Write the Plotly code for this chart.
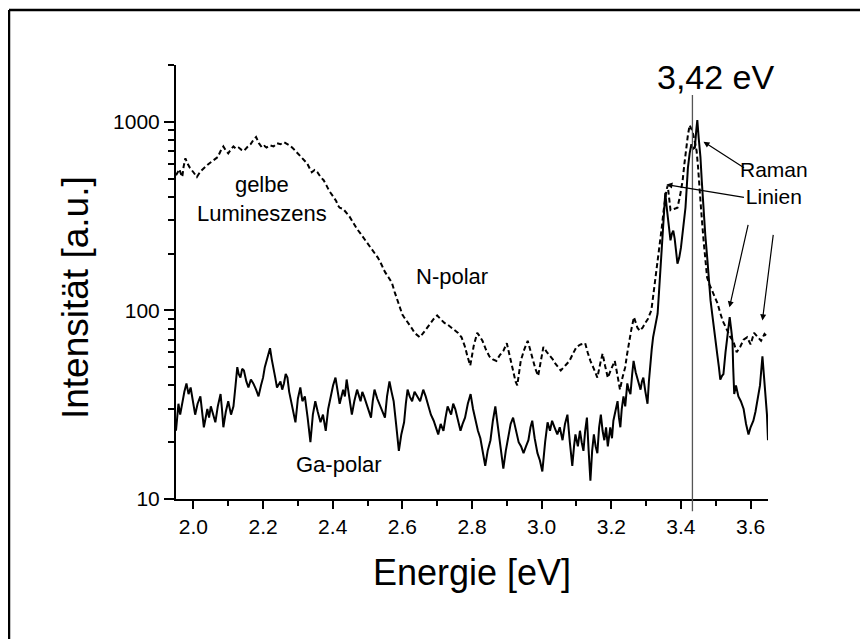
import plotly.graph_objects as go

# ---- data ----
ga_x = [1.950, 1.954, 1.957, 1.962, 1.968, 1.974, 1.980, 1.986, 1.992, 1.998,
        2.005, 2.012, 2.020, 2.025, 2.030, 2.040, 2.045, 2.050, 2.056, 2.063,
        2.070, 2.078, 2.082, 2.086, 2.093, 2.100, 2.108, 2.115, 2.121, 2.126,
        2.130, 2.135, 2.140, 2.145, 2.152, 2.158, 2.165, 2.172, 2.180, 2.187,
        2.194, 2.200, 2.205, 2.210, 2.215, 2.220, 2.225, 2.230, 2.235, 2.240,
        2.250, 2.255, 2.260, 2.265, 2.270, 2.275, 2.280, 2.287, 2.293, 2.300,
        2.307, 2.313, 2.320, 2.328, 2.336, 2.343, 2.350, 2.357, 2.365, 2.372,
        2.380, 2.387, 2.394, 2.401, 2.408, 2.414, 2.420, 2.430, 2.435, 2.440,
        2.447, 2.455, 2.462, 2.470, 2.480, 2.485, 2.490, 2.500, 2.510, 2.515,
        2.520, 2.528, 2.537, 2.543, 2.550, 2.556, 2.563, 2.569, 2.575, 2.582,
        2.590, 2.597, 2.605, 2.610, 2.615, 2.621, 2.628, 2.635, 2.643, 2.651,
        2.660, 2.667, 2.675, 2.682, 2.690, 2.696, 2.703, 2.710, 2.718, 2.724,
        2.730, 2.740, 2.746, 2.752, 2.760, 2.767, 2.773, 2.780, 2.788, 2.796,
        2.803, 2.810, 2.817, 2.824, 2.831, 2.838, 2.845, 2.853, 2.860, 2.867,
        2.871, 2.876, 2.883, 2.890, 2.897, 2.905, 2.911, 2.918, 2.926, 2.934,
        2.941, 2.948, 2.955, 2.962, 2.968, 2.973, 2.980, 2.988, 2.995, 3.002,
        3.010, 3.017, 3.024, 3.030, 3.037, 3.045, 3.052, 3.060, 3.067, 3.074,
        3.081, 3.088, 3.093, 3.097, 3.104, 3.110, 3.115, 3.120, 3.125, 3.130,
        3.135, 3.140, 3.145, 3.150, 3.155, 3.160, 3.165, 3.170, 3.175, 3.180,
        3.185, 3.190, 3.197, 3.202, 3.206, 3.212, 3.218, 3.222, 3.226, 3.230,
        3.235, 3.240, 3.246, 3.250, 3.255, 3.260, 3.264, 3.270, 3.275, 3.280,
        3.284, 3.288, 3.292, 3.298, 3.304, 3.308, 3.312, 3.316, 3.320, 3.327,
        3.333, 3.337, 3.340, 3.344, 3.347, 3.351, 3.355, 3.360, 3.365, 3.370,
        3.374, 3.378, 3.382, 3.385, 3.390, 3.395, 3.400, 3.407, 3.413, 3.417,
        3.420, 3.425, 3.430, 3.435, 3.440, 3.444, 3.447, 3.451, 3.456, 3.460,
        3.465, 3.470, 3.476, 3.480, 3.485, 3.490, 3.494, 3.500, 3.505, 3.509,
        3.513, 3.518, 3.522, 3.528, 3.534, 3.537, 3.540, 3.544, 3.548, 3.550,
        3.553, 3.558, 3.565, 3.572, 3.580, 3.587, 3.594, 3.600, 3.608, 3.614,
        3.620, 3.627, 3.634, 3.638, 3.643, 3.647, 3.650]
ga_y = [23, 30, 32, 28, 33, 37, 41, 36, 39, 33,
        28, 32, 35, 29, 24, 30, 27, 31, 28, 25.5,
        31, 36, 30, 24, 29, 33, 28, 31, 40, 50,
        46, 44, 49, 48, 42, 39, 43, 41, 38, 35,
        40, 44, 50, 54, 57, 63, 55, 50, 44, 39,
        42, 38, 41, 46, 44, 37, 33, 29, 25.5, 34,
        39, 33, 35, 27, 20, 28, 33, 29, 25.5, 28,
        23, 30, 35, 40, 44, 37, 32, 38, 35, 43,
        36, 28, 33, 38, 33, 37, 35, 31, 27, 33,
        38, 34, 31, 29, 27, 35, 42, 37, 33, 25,
        18, 22, 25.5, 32, 38, 35, 33, 37, 35, 33,
        38, 35, 31, 28, 26, 24, 22, 25, 23, 27,
        31, 28, 32, 30, 26, 23, 25, 27, 32, 36,
        30, 26, 23, 21, 18, 15, 18, 20.5, 26, 31,
        27, 23, 18, 14.5, 18, 22, 25, 27, 23, 20,
        19, 17.5, 19, 20.5, 24, 26, 21, 17.5, 16, 14,
        20, 25.5, 23, 26, 24, 22, 24, 20.5, 25, 28,
        20, 15, 19, 22, 19, 23, 20, 18, 23, 27,
        18, 12.5, 18, 22, 19, 17.5, 24, 28, 23, 20.5,
        24, 19, 24, 21, 26, 29, 33, 27, 24, 30,
        35, 31, 41, 38, 36, 46, 54, 47, 43, 40,
        38, 42, 44, 37, 32, 42, 54, 62, 72, 84,
        96, 125, 150, 195, 240, 330, 420, 340, 280, 235,
        255, 265, 240, 215, 177, 190, 215, 280, 350, 460,
        570, 680, 760, 720, 730, 900, 1020, 820, 650, 480,
        340, 250, 185, 145, 113, 95, 81, 68, 57, 50,
        43, 45, 46, 60, 76, 84, 92, 80, 69, 50,
        36, 40, 35, 33, 30, 25, 22, 24, 26, 29,
        33, 40, 57, 46, 35, 28, 20.5]

n_x = [1.950, 1.955, 1.960, 1.964, 1.968, 1.972, 1.977, 1.983, 1.990, 2.000,
       2.010, 2.020, 2.030, 2.040, 2.050, 2.060, 2.070, 2.078, 2.086, 2.093,
       2.100, 2.108, 2.115, 2.122, 2.130, 2.138, 2.145, 2.155, 2.164, 2.172,
       2.180, 2.188, 2.197, 2.204, 2.210, 2.220, 2.230, 2.240, 2.250, 2.260,
       2.270, 2.278, 2.287, 2.297, 2.307, 2.317, 2.327, 2.334, 2.340, 2.348,
       2.356, 2.365, 2.374, 2.382, 2.390, 2.400, 2.410, 2.415, 2.420, 2.430,
       2.440, 2.448, 2.455, 2.462, 2.470, 2.480, 2.490, 2.500, 2.510, 2.520,
       2.530, 2.540, 2.550, 2.560, 2.570, 2.578, 2.585, 2.590, 2.595, 2.600,
       2.605, 2.612, 2.620, 2.628, 2.635, 2.642, 2.650, 2.658, 2.665, 2.672,
       2.680, 2.690, 2.700, 2.710, 2.720, 2.730, 2.740, 2.750, 2.760, 2.770,
       2.780, 2.787, 2.795, 2.805, 2.815, 2.822, 2.830, 2.840, 2.850, 2.860,
       2.870, 2.880, 2.890, 2.900, 2.910, 2.920, 2.925, 2.930, 2.935, 2.940,
       2.950, 2.960, 2.968, 2.975, 2.982, 2.990, 2.998, 3.005, 3.015, 3.025,
       3.032, 3.040, 3.048, 3.055, 3.068, 3.080, 3.090, 3.100, 3.112, 3.125,
       3.132, 3.140, 3.150, 3.160, 3.168, 3.175, 3.182, 3.190, 3.200, 3.210,
       3.218, 3.225, 3.232, 3.240, 3.245, 3.250, 3.258, 3.265, 3.270, 3.275,
       3.282, 3.290, 3.298, 3.305, 3.310, 3.315, 3.320, 3.325, 3.330, 3.335,
       3.340, 3.345, 3.350, 3.355, 3.358, 3.362, 3.366, 3.370, 3.380, 3.390,
       3.398, 3.405, 3.410, 3.415, 3.420, 3.425, 3.429, 3.433, 3.439, 3.445,
       3.449, 3.452, 3.458, 3.465, 3.470, 3.475, 3.482, 3.490, 3.498, 3.505,
       3.512, 3.520, 3.528, 3.535, 3.542, 3.550, 3.560, 3.570, 3.580, 3.590,
       3.600, 3.610, 3.620, 3.630, 3.640, 3.650]
n_y = [520, 540, 560, 530, 510, 580, 640, 600, 570, 540,
       510, 545, 570, 590, 610, 630, 650, 700, 740, 705,
       680, 715, 740, 720, 730, 710, 700, 735, 760, 800,
       830, 770, 730, 745, 730, 750, 740, 770, 760, 780,
       760, 745, 720, 690, 660, 630, 600, 565, 540, 555,
       540, 510, 490, 460, 430, 405, 380, 360, 350, 345,
       330, 315, 300, 285, 270, 255, 240, 228, 215, 200,
       190, 175, 160, 150, 140, 125, 115, 106, 100, 95,
       92, 88, 85, 80, 76, 74, 72, 75, 78, 82,
       85, 90, 94, 90, 86, 84, 81, 79, 76, 72,
       64, 57, 51, 65, 76, 73, 69, 62, 57, 55,
       54, 58, 61, 67, 55, 46, 42, 40, 47, 54,
       62, 69, 61, 54, 49, 45, 55, 64, 60, 57,
       55, 52, 50, 48, 51, 54, 59, 64, 66, 67,
       60, 54, 49, 44, 52, 59, 51, 44, 49, 54,
       45, 38, 44, 50, 58, 67, 80, 92, 86, 81,
       78, 81, 86, 90, 95, 100, 118, 140, 160, 185,
       225, 275, 335, 395, 430, 460, 390, 340, 345, 350,
       410, 490, 600, 730, 850, 960, 920, 890, 800, 700,
       580, 470, 340, 235, 185, 150, 137, 127, 118, 109,
       98, 88, 82, 76, 72, 69, 60, 64, 70, 72,
       66, 76, 72, 69, 75, 72]

x_ticks = [2.0, 2.2, 2.4, 2.6, 2.8, 3.0, 3.2, 3.4, 3.6]
y_ticks = [10, 100, 1000]
y_tick_labels = ["10", "100", "1000"]
y_minor = [20, 30, 40, 50, 60, 70, 80, 90,
           200, 300, 400, 500, 600, 700, 800, 900, 2000]
peak_energy = 3.433

FONT = "Arial, Liberation Sans, sans-serif"

fig = go.Figure()
fig.add_trace(go.Scatter(x=n_x, y=n_y, mode="lines", name="N-polar",
                         line=dict(color="black", width=2, dash="5px,3px")))
fig.add_trace(go.Scatter(x=ga_x, y=ga_y, mode="lines", name="Ga-polar",
                         line=dict(color="black", width=2)))

# page body adds an 8px offset; figure sized so that the plot area sits at
# x 176..768, y 65..499 in the 868x639 window
fig.update_layout(
    width=860, height=631, autosize=False,
    margin=dict(l=168, r=100, t=57, b=140),
    paper_bgcolor="white", plot_bgcolor="white",
    showlegend=False,
    font=dict(family=FONT, color="black", size=21),
)
fig.update_xaxes(
    range=[1.95, 3.65], tickvals=x_ticks, tickformat=".1f",
    showline=True, linecolor="black", linewidth=2, mirror=False,
    ticks="outside", ticklen=8, tickwidth=2, tickcolor="black",
    showgrid=False, zeroline=False,
    tickfont=dict(size=21, family=FONT),
    minor=dict(dtick=0.1, tick0=2.0, ticks="outside", ticklen=5,
               tickwidth=2, tickcolor="black", showgrid=False),
)
fig.update_yaxes(
    type="log", range=[1, 3.30103],
    tickvals=y_ticks, ticktext=y_tick_labels,
    showline=True, linecolor="black", linewidth=2, mirror=False,
    ticks="outside", ticklen=10, tickwidth=2, tickcolor="black",
    showgrid=False, zeroline=False,
    tickfont=dict(size=21, family=FONT),
    minor=dict(tickvals=y_minor, ticks="outside", ticklen=6,
               tickwidth=2, tickcolor="black", showgrid=False),
)

# vertical line at the peak
fig.add_shape(type="line", xref="x", yref="paper",
              x0=peak_energy, x1=peak_energy, y0=-0.028, y1=0.931,
              line=dict(color="#555555", width=1.3))

# outer frame (top and left edges)
fig.add_shape(type="line", xref="paper", yref="paper",
              x0=-0.2821, x1=1.2, y0=1.1267, y1=1.1267,
              line=dict(color="black", width=2.5))
fig.add_shape(type="line", xref="paper", yref="paper",
              x0=-0.2821, x1=-0.2821, y0=1.1267, y1=-0.35,
              line=dict(color="black", width=2.5))

def label(text, x, y, size, angle=0):
    fig.add_annotation(text=text, xref="paper", yref="paper", x=x, y=y,
                       xanchor="center", yanchor="middle", showarrow=False,
                       textangle=angle, font=dict(size=size, family=FONT, color="black"))

label("3,42 eV", 0.9122, 0.9724, 34)
label("gelbe<br>Lumineszens", 0.1453, 0.6912, 22)
label("N-polar", 0.4662, 0.5138, 22)
label("Ga-polar", 0.2753, 0.0806, 22)
label("Raman<br>Linien", 1.0101, 0.7281, 21)
label("Energie [eV]", 0.5, -0.1705, 36)
label("Intensität [a.u.]", -0.1706, 0.4631, 37, angle=-90)

# arrows pointing at Raman lines (tip in data coords, tail offset in px)
arrows = [(3.4647, 2.894, 42, 27), (3.3584, 2.667, 79, 13),
          (3.5393, 2.016, 19, -84), (3.634, 1.947, 11, -87)]
for ax_, ay_, dx, dy in arrows:
    fig.add_annotation(x=ax_, y=ay_, xref="x", yref="y", text="",
                       showarrow=True, ax=dx, ay=dy, arrowhead=2,
                       arrowsize=1, arrowwidth=1.2, arrowcolor="black")

fig.write_html("out.html")
